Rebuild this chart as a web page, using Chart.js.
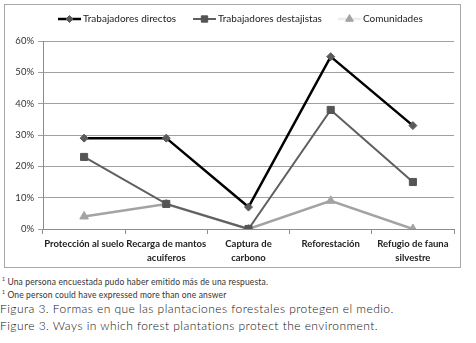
<!DOCTYPE html>
<html><head><meta charset="utf-8">
<script src="https://cdn.jsdelivr.net/npm/chart.js@4"></script>
<style>
body{margin:0;background:#fff;width:476px;height:343px;overflow:hidden;position:relative;font-family:Lato,sans-serif}
#box{position:absolute;left:4px;top:4px;width:455px;height:262px;border:1px solid #a8a8a8}
canvas{display:block}
.t{position:absolute;left:2px;white-space:nowrap;font-family:"Lato",sans-serif}
.f{font-size:8.5px;letter-spacing:0.15px;font-weight:400;color:#333}
.c{font-size:12px;letter-spacing:0.45px;left:0;font-weight:300;color:#111}
</style></head><body>
<div id="box"><canvas id="c" width="455" height="262"></canvas></div>
<div class="t f" style="top:276px"><sup style="font-size:5px">1</sup> Una persona encuestada pudo haber emitido más de una respuesta.</div>
<div class="t f" style="top:289px"><sup style="font-size:5px">1</sup> One person could have expressed more than one answer</div>
<div class="t c" style="top:301px">Figura 3. Formas en que las plantaciones forestales protegen el medio.</div>
<div class="t c" style="top:318px">Figure 3. Ways in which forest plantations protect the environment.</div>
<script>
const categories = [['Protección al suelo'], ['Recarga de mantos','acuiferos'], ['Captura de','carbono'], ['Reforestación'], ['Refugio de fauna','silvestre']];
const seriesNames = ['Trabajadores directos', 'Trabajadores destajistas', 'Comunidades'];
const directos = [29, 29, 7, 55, 33];
const destajistas = [23, 8, 0, 38, 15];
const comunidades = [4, 8, 0, 9, 0];
const yTicks = [0, 10, 20, 30, 40, 50, 60];

const styles = [
  {line:'#000000', point:'#5a5a5a', shape:'rectRot', r:4, w:2.5, legLine:'#000000'},
  {line:'#5f5f5f', point:'#555555', shape:'rect', r:5, w:2, legLine:'#5f5f5f'},
  {line:'#a3a3a3', point:'#a3a3a3', shape:'triangle', r:5, w:2.5, legLine:'#ececec'}
];
const data = [directos, destajistas, comunidades];

const legendPlugin = {
  id:'customLegend',
  afterDraw(chart){
    const ctx = chart.ctx;
    const y = 14;
    const xs = [53, 188, 333];
    ctx.save();
    ctx.font = '10px Lato';
    ctx.textBaseline = 'middle';
    seriesNames.forEach((n,i)=>{
      const s = styles[i], x = xs[i];
      ctx.strokeStyle = s.legLine; ctx.lineWidth = s.w;
      ctx.beginPath(); ctx.moveTo(x, y); ctx.lineTo(x+23, y); ctx.stroke();
      ctx.fillStyle = s.point; ctx.strokeStyle = s.point; ctx.lineWidth = 1;
      Chart.helpers.drawPoint(ctx, {pointStyle:s.shape, radius:s.r-0.5, borderWidth:1}, x+11.5, y);
      ctx.fillStyle = '#222';
      ctx.fillText(n, x+25, y);
    });
    ctx.restore();
  }
};

new Chart(document.getElementById('c'), {
  type:'line',
  data:{
    labels: categories,
    datasets: seriesNames.map((n,i)=>({
      label:n, data:data[i],
      borderColor:styles[i].line, borderWidth:styles[i].w,
      pointStyle:styles[i].shape, pointRadius:styles[i].r,
      pointBackgroundColor:styles[i].point, pointBorderColor:styles[i].point, pointBorderWidth:1,
      tension:0, fill:false
    }))
  },
  options:{
    responsive:false, animation:false, devicePixelRatio:1,
    layout:{padding:{top:36, right:1, left:0, bottom:0}},
    plugins:{legend:{display:false}, tooltip:{enabled:false}},
    scales:{
      x:{
        offset:true,
        grid:{display:true, drawOnChartArea:false, offset:true, tickLength:5, color:'#8c8c8c'},
        border:{color:'#8c8c8c'},
        ticks:{padding:3, maxRotation:0, autoSkip:false, color:'#222', font:{family:'Lato', size:9.5, weight:'bold', lineHeight:1.45}},
        afterFit(s){ s.height = 38; }
      },
      y:{
        min:0, max:60,
        afterBuildTicks(s){ s.ticks = yTicks.map(v=>({value:v})); },
        grid:{color:'#a0a0a0', tickLength:5, lineWidth:1},
        border:{color:'#8c8c8c'},
        ticks:{padding:4, color:'#333', font:{family:'Lato', size:9.5}, callback:v=>v+'%'},
        afterFit(s){ s.width = 38; }
      }
    }
  },
  plugins:[legendPlugin]
});
</script>
</body></html>
